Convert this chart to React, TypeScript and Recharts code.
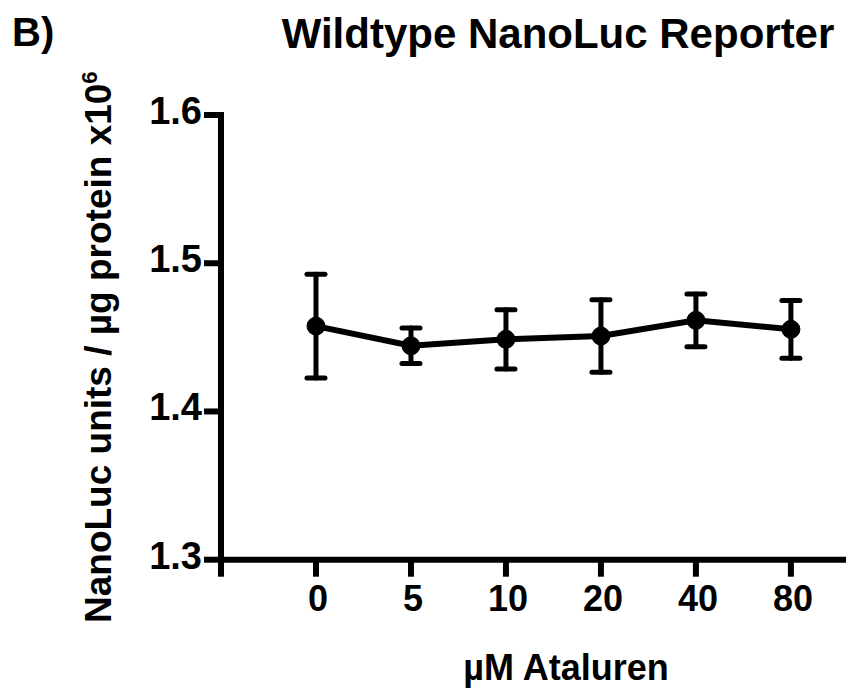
import React from 'react';
import { LineChart, Line, XAxis, YAxis, ErrorBar } from 'recharts';

// ---- data ----
const doseLabels = ['0', '5', '10', '20', '40', '80'];
const meanValues = [1.4576, 1.4443, 1.4487, 1.4509, 1.4615, 1.4554];
const semValues = [0.035, 0.012, 0.02, 0.0245, 0.0178, 0.0195];
const yTicks = [1.3, 1.4, 1.5, 1.6];
const xTickPositions = [-1, 0, 1, 2, 3, 4, 5];

const titleText = 'Wildtype NanoLuc Reporter';
const panelText = 'B)';
const xAxisTitle = '\u00B5M Ataluren';
const yAxisTitleMain = 'NanoLuc units / \u00B5g protein x10';
const yAxisTitleSup = '6';

const chartData = doseLabels.map((label, i) => ({
  pos: i,
  label,
  mean: meanValues[i],
  err: semValues[i],
}));

const FONT = '"Liberation Sans", Arial, Helvetica, sans-serif';

const XTick = (props: any) => {
  const { x, y, payload } = props;
  const v = payload.value;
  const text = v < 0 ? '' : doseLabels[v];
  return (
    <text
      x={x + 2}
      y={y}
      dy="0.71em"
      textAnchor="middle"
      fontFamily={FONT}
      fontWeight="bold"
      fontSize={36}
      fill="#000"
    >
      {text}
    </text>
  );
};

const YTick = (props: any) => {
  const { x, y, payload } = props;
  return (
    <text
      x={x}
      y={y - 4.5}
      dy="0.355em"
      textAnchor="end"
      fontFamily={FONT}
      fontWeight="bold"
      fontSize={38}
      fill="#000"
    >
      {Number(payload.value).toFixed(1)}
    </text>
  );
};

const renderTexts = () => (
  <g>
    <text x={12} y={46} fontFamily={FONT} fontWeight="bold" fontSize={40} fill="#000">
      {panelText}
    </text>
    <text x={558} y={48} textAnchor="middle" fontFamily={FONT} fontWeight="bold" fontSize={42} fill="#000">
      {titleText}
    </text>
    <text
      transform="translate(111,623) rotate(-90)"
      textAnchor="start"
      fontFamily={FONT}
      fontWeight="bold"
      fontSize={37}
      fill="#000"
    >
      {yAxisTitleMain}
      <tspan dy={-14} fontSize={22}>
        {yAxisTitleSup}
      </tspan>
    </text>
    <text x={566} y={680} textAnchor="middle" fontFamily={FONT} fontWeight="bold" fontSize={36} fill="#000">
      {xAxisTitle}
    </text>
  </g>
);

export default function App() {
  return (
    <div style={{ position: 'absolute', left: 0, top: 0, width: 846, height: 691, background: '#fff' }}>
      <LineChart
        width={846}
        height={691}
        data={chartData}
        margin={{ top: 115, right: 0, bottom: 0, left: 0 }}
        style={{ overflow: 'visible' }}
      >
        <XAxis
          dataKey="pos"
          type="number"
          domain={[-1, 5.58]}
          ticks={xTickPositions}
          allowDataOverflow
          height={131.3}
          tickSize={17}
          tickMargin={9}
          axisLine={{ stroke: '#000', strokeWidth: 6, strokeLinecap: 'square' }}
          tickLine={{ stroke: '#000', strokeWidth: 6 }}
          tick={<XTick />}
          interval={0}
        />
        <YAxis
          type="number"
          domain={[1.3, 1.6]}
          ticks={yTicks}
          allowDataOverflow
          width={221}
          tickSize={17}
          tickMargin={2}
          axisLine={{ stroke: '#000', strokeWidth: 6, strokeLinecap: 'square' }}
          tickLine={{ stroke: '#000', strokeWidth: 6 }}
          tick={<YTick />}
          interval={0}
          label={{ content: renderTexts }}
        />
        <Line
          dataKey="mean"
          stroke="#000"
          strokeWidth={6}
          dot={{ r: 9, fill: '#000', stroke: '#000', strokeWidth: 1 }}
          activeDot={false}
          isAnimationActive={false}
        >
          <ErrorBar
            dataKey="err"
            direction="y"
            width={9}
            stroke="#000"
            strokeWidth={5}
            strokeLinecap="round"
            isAnimationActive={false}
          />
        </Line>
      </LineChart>
    </div>
  );
}
